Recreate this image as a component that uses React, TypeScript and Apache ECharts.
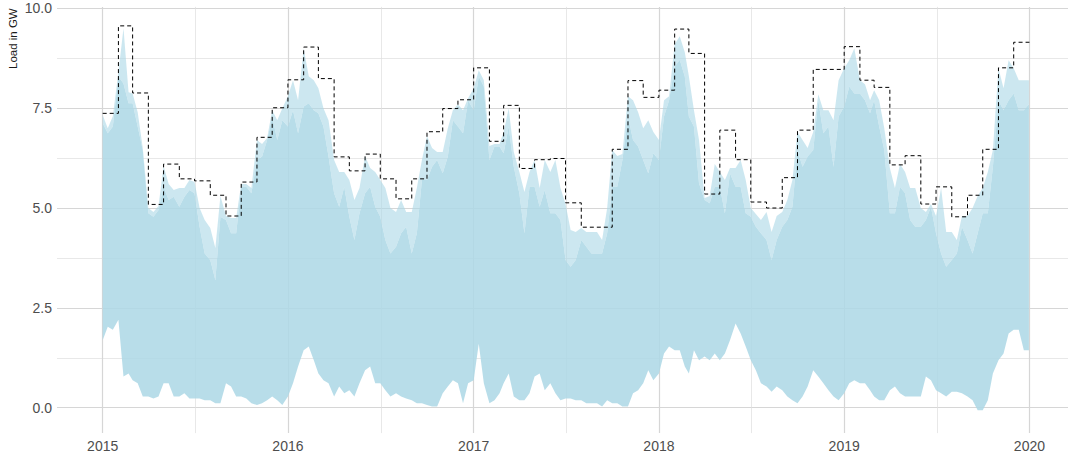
import React, { useEffect, useRef } from "react";
import * as echarts from "echarts";

// Year ticks on the x axis
const yearTicks = [2015, 2016, 2017, 2018, 2019, 2020];
// y axis tick labels (major) and minor grid values
const yMajor = [0, 2.5, 5, 7.5, 10];
const yMinor = [1.25, 3.75, 6.25, 8.75];

// Monthly maximum load (GW), dashed step line
const monthlyMax2015 = [7.37, 9.56, 7.88, 5.09, 6.1, 5.73, 5.68, 5.32, 4.8, 5.65, 6.77, 7.51];
const monthlyMax2016 = [8.21, 9.03, 8.24, 6.28, 5.93, 6.35, 5.73, 5.23, 5.73, 6.91, 7.49, 7.71];
const monthlyMax2017 = [8.51, 6.67, 7.57, 5.99, 6.21, 6.24, 5.13, 4.52, 4.52, 6.47, 8.19, 7.77];
const monthlyMax2018 = [7.95, 9.48, 8.87, 5.35, 6.95, 6.21, 5.15, 5.0, 5.76, 6.95, 8.47, 8.47];
const monthlyMax2019 = [9.04, 8.2, 8.02, 6.08, 6.31, 5.1, 5.53, 4.78, 5.32, 6.47, 8.51, 9.15];

// Hourly load (GW) summarised on the 1st, 11th and 21st of each month:
// lower envelope, top of the dense band, and top of the spikes
const bandLow2015 = [1.69, 2.03, 1.95, 2.2, 0.78, 0.86, 0.69, 0.61, 0.28, 0.28, 0.23, 0.28, 0.61, 0.61, 0.28, 0.28, 0.36, 0.23, 0.23, 0.23, 0.19, 0.19, 0.11, 0.11, 0.61, 0.53, 0.28, 0.28, 0.23, 0.11, 0.07, 0.11, 0.19, 0.28, 0.19, 0.07];
const bandHigh2015 = [7.12, 6.87, 7.04, 8.29, 8.12, 7.62, 7.62, 7.04, 6.45, 4.87, 4.78, 4.95, 5.53, 5.2, 5.28, 5.03, 5.28, 5.45, 5.37, 4.53, 3.86, 3.7, 3.2, 4.78, 4.7, 4.37, 4.37, 5.53, 5.53, 5.37, 6.2, 6.29, 6.7, 7.29, 6.7, 7.2];
const bandPeak2015 = [7.33, 7.0, 7.3, 8.4, 9.5, 7.9, 7.87, 7.4, 6.5, 5.0, 4.9, 5.05, 6.05, 5.6, 5.45, 5.5, 5.5, 5.7, 5.65, 5.0, 4.7, 4.5, 4.0, 5.3, 4.8, 4.75, 4.75, 5.6, 5.6, 5.5, 6.7, 6.6, 6.75, 7.45, 7.2, 7.5];
const bandLow2016 = [0.28, 0.61, 1.03, 1.44, 1.53, 1.19, 0.86, 0.69, 0.61, 0.28, 0.53, 0.36, 0.44, 0.28, 0.61, 0.94, 1.03, 0.61, 0.61, 0.44, 0.28, 0.36, 0.28, 0.23, 0.19, 0.11, 0.11, 0.07, 0.03, 0.03, 0.36, 0.53, 0.69, 0.61, 0.11, 0.61];
const bandHigh2016 = [7.04, 7.45, 6.87, 7.54, 7.62, 7.45, 7.37, 7.04, 6.29, 5.37, 5.03, 5.53, 4.78, 4.2, 4.87, 5.37, 5.53, 5.03, 4.78, 4.2, 3.86, 4.03, 4.37, 4.53, 3.86, 4.37, 5.7, 5.7, 6.03, 6.2, 5.87, 6.29, 7.2, 7.04, 6.87, 7.7];
const bandPeak2016 = [7.8, 8.2, 7.7, 9.0, 8.3, 8.2, 8.0, 7.5, 7.2, 6.2, 5.9, 5.9, 5.7, 5.2, 5.5, 6.3, 6.0, 5.9, 5.7, 5.5, 5.0, 4.9, 5.2, 4.9, 4.9, 5.5, 6.2, 6.8, 6.5, 6.4, 6.4, 7.0, 7.45, 7.6, 7.45, 7.75];
const bandLow2017 = [0.69, 1.6, 0.61, 0.11, 0.19, 0.36, 0.61, 0.86, 0.28, 0.19, 0.19, 0.36, 0.78, 0.86, 0.44, 0.61, 0.36, 0.19, 0.23, 0.23, 0.19, 0.19, 0.11, 0.11, 0.11, 0.03, 0.19, 0.11, 0.11, 0.03, 0.03, 0.36, 0.44, 0.61, 0.94, 0.69];
const bandHigh2017 = [7.45, 8.29, 8.04, 6.2, 6.54, 6.54, 6.37, 7.04, 6.03, 5.37, 4.37, 5.53, 5.53, 5.03, 5.45, 4.87, 4.87, 4.7, 3.7, 3.53, 3.7, 4.2, 4.03, 3.86, 3.86, 3.86, 4.37, 5.53, 5.53, 6.2, 7.29, 6.7, 6.54, 6.2, 5.87, 6.37];
const bandPeak2017 = [8.0, 8.45, 8.2, 6.55, 6.6, 6.6, 6.9, 7.5, 6.4, 5.9, 5.4, 5.9, 6.2, 5.5, 6.2, 5.9, 6.2, 5.5, 5.1, 4.45, 4.4, 4.5, 4.4, 4.4, 4.4, 4.2, 5.0, 6.45, 6.3, 6.35, 7.8, 7.7, 7.4, 7.0, 7.2, 6.9];
const bandLow2018 = [0.86, 1.36, 1.53, 1.44, 1.44, 1.03, 0.86, 1.44, 1.19, 1.28, 1.19, 1.36, 1.19, 1.36, 1.69, 2.11, 1.86, 1.53, 1.19, 0.94, 0.61, 0.53, 0.4, 0.53, 0.44, 0.28, 0.19, 0.11, 0.28, 0.53, 0.94, 0.78, 0.61, 0.44, 0.28, 0.19];
const bandHigh2018 = [6.2, 7.29, 7.7, 8.54, 8.71, 8.29, 7.29, 7.04, 5.62, 5.2, 5.12, 5.53, 5.53, 4.87, 5.87, 5.53, 5.53, 4.87, 4.78, 4.53, 4.37, 4.2, 3.7, 4.2, 4.53, 4.7, 5.03, 6.45, 6.03, 6.29, 6.45, 7.7, 6.87, 7.04, 6.03, 7.29];
const bandPeak2018 = [6.7, 7.7, 7.8, 9.1, 9.3, 8.9, 8.3, 7.45, 6.7, 5.25, 5.3, 6.1, 5.9, 5.7, 6.0, 6.0, 6.2, 5.7, 5.0, 4.85, 4.7, 4.9, 4.4, 4.8, 4.9, 5.2, 5.7, 6.9, 6.7, 6.5, 6.9, 7.85, 7.45, 7.45, 7.2, 8.2];
const bandLow2019 = [0.36, 0.61, 0.69, 0.61, 0.61, 0.44, 0.28, 0.19, 0.19, 0.44, 0.53, 0.36, 0.28, 0.28, 0.28, 0.28, 0.78, 0.69, 0.44, 0.36, 0.28, 0.4, 0.4, 0.36, 0.28, 0.19, -0.06, -0.06, 0.19, 0.86, 1.19, 1.36, 1.86, 1.95, 1.95, 1.44];
const bandHigh2019 = [7.54, 8.04, 7.87, 7.87, 7.7, 7.37, 7.7, 7.04, 6.45, 4.87, 4.87, 5.53, 5.37, 4.7, 4.53, 4.53, 4.7, 5.03, 4.37, 3.86, 3.53, 3.7, 3.86, 4.53, 4.2, 3.86, 4.37, 4.87, 4.87, 6.03, 7.7, 7.45, 7.7, 7.87, 7.45, 7.45];
const bandPeak2019 = [8.5, 8.7, 9.0, 8.2, 8.1, 7.7, 7.95, 7.7, 7.0, 6.0, 5.5, 6.1, 5.9, 5.5, 5.5, 5.0, 4.9, 5.1, 4.8, 5.5, 4.4, 4.4, 4.2, 4.8, 4.8, 5.0, 5.3, 5.5, 5.9, 6.45, 8.5, 8.0, 8.7, 8.5, 8.2, 8.2];
// Readings on 31 Dec 2019
const bandLowEnd = 1.44;
const bandHighEnd = 7.6;
const bandPeakEnd = 8.2;

const bandDays = [1, 11, 21];

const TEXT = "'Liberation Sans', Arial, Helvetica, sans-serif";

export default function App() {
  const ref = useRef<HTMLDivElement>(null);

  useEffect(() => {
    if (!ref.current) return;
    const chart = echarts.init(ref.current, undefined, { renderer: "svg" });

    const monthlyMax = [
      ...monthlyMax2015,
      ...monthlyMax2016,
      ...monthlyMax2017,
      ...monthlyMax2018,
      ...monthlyMax2019,
    ];
    const stepData: [number, number][] = monthlyMax.map((v, i) => [
      Date.UTC(2015 + Math.floor(i / 12), i % 12, 1),
      v,
    ]);
    stepData.push([Date.UTC(2020, 0, 1), monthlyMax[monthlyMax.length - 1]]);

    const low = [...bandLow2015, ...bandLow2016, ...bandLow2017, ...bandLow2018, ...bandLow2019, bandLowEnd];
    const high = [...bandHigh2015, ...bandHigh2016, ...bandHigh2017, ...bandHigh2018, ...bandHigh2019, bandHighEnd];
    const peak = [...bandPeak2015, ...bandPeak2016, ...bandPeak2017, ...bandPeak2018, ...bandPeak2019, bandPeakEnd];
    const times: number[] = [];
    for (let y = 2015; y <= 2019; y++) {
      for (let m = 0; m < 12; m++) {
        for (const d of bandDays) times.push(Date.UTC(y, m, d));
      }
    }
    times.push(Date.UTC(2019, 11, 31));

    const bandData = times.map((t, i) => [t, low[i], high[i], peak[i]]);

    const yearTs = yearTicks.map((y) => Date.UTC(y, 0, 1));
    const midTs = yearTs.slice(0, -1).map((t, i) => (t + yearTs[i + 1]) / 2);

    const xMin = Date.UTC(2014, 9, 3);
    const xMax = Date.UTC(2020, 2, 17);

    const majorStyle = { color: "#d6d6d6", width: 1.2, type: "solid" as const };
    const minorStyle = { color: "#dedede", width: 0.7, type: "solid" as const };

    const gridLines = [
      ...yMajor.map((v) => ({ yAxis: v, lineStyle: majorStyle })),
      ...yMinor.map((v) => ({ yAxis: v, lineStyle: minorStyle })),
      ...yearTs.map((t) => ({ xAxis: t, lineStyle: majorStyle })),
      ...midTs.map((t) => ({ xAxis: t, lineStyle: minorStyle })),
    ];

    chart.setOption({
      animation: false,
      grid: { left: 57, right: 0, top: 6.9, bottom: 28.9, outerBoundsMode: "none" },
      xAxis: {
        type: "value",
        min: xMin,
        max: xMax,
        axisLine: { show: false },
        axisTick: { show: false },
        splitLine: { show: false },
        axisLabel: {
          customValues: yearTs,
          formatter: (v: number) => String(new Date(v).getUTCFullYear()),
          color: "#4d4d4d",
          fontSize: 14,
          fontFamily: TEXT,
          margin: 6,
          hideOverlap: false,
        },
      },
      yAxis: {
        type: "value",
        min: -0.635,
        max: 10.035,
        axisLine: { show: false },
        axisTick: { show: false },
        splitLine: { show: false },
        axisLabel: {
          customValues: yMajor,
          formatter: (v: number) => v.toFixed(1),
          color: "#4d4d4d",
          fontSize: 14,
          fontFamily: TEXT,
          margin: 5,
        },
      },
      graphic: [
        {
          type: "text",
          x: 13,
          y: 69,
          rotation: Math.PI / 2,
          style: {
            text: "Load in GW",
            fill: "#1a1a1a",
            fontSize: 11.5,
            fontFamily: TEXT,
            textAlign: "left",
            textVerticalAlign: "middle",
          },
        },
      ],
      series: [
        {
          name: "grid",
          type: "line",
          data: [[xMin, 0]],
          symbol: "none",
          lineStyle: { opacity: 0 },
          z: 0,
          silent: true,
          markLine: {
            silent: true,
            symbol: ["none", "none"],
            label: { show: false },
            z: 0,
            data: gridLines,
          },
        },
        {
          name: "load",
          type: "custom",
          data: [bandData[0]],
          silent: true,
          z: 2,
          encode: { x: 0, y: [1, 2, 3] },
          renderItem: (_params: any, api: any) => {
            const lower = bandData.map((d) => api.coord([d[0], d[1]]));
            const upper = bandData.map((d) => api.coord([d[0], d[2]]));
            const top = bandData.map((d) => api.coord([d[0], d[3]]));
            return {
              type: "group",
              children: [
                {
                  type: "polygon",
                  shape: { points: top.concat(upper.slice().reverse()) },
                  style: { fill: "rgba(173,216,230,0.62)", stroke: "none" },
                },
                {
                  type: "polygon",
                  shape: { points: upper.concat(lower.slice().reverse()) },
                  style: { fill: "rgba(173,216,230,0.87)", stroke: "none" },
                },
              ],
            };
          },
        },
        {
          name: "monthly max",
          type: "line",
          data: stepData,
          step: "end",
          symbol: "none",
          lineStyle: { color: "#000", width: 1, type: [4, 3] },
          z: 3,
          silent: true,
        },
      ],
    });

    return () => chart.dispose();
  }, []);

  return (
    <div
      ref={ref}
      style={{ position: "absolute", left: 0, top: 0, width: 1068, height: 462 }}
    />
  );
}
